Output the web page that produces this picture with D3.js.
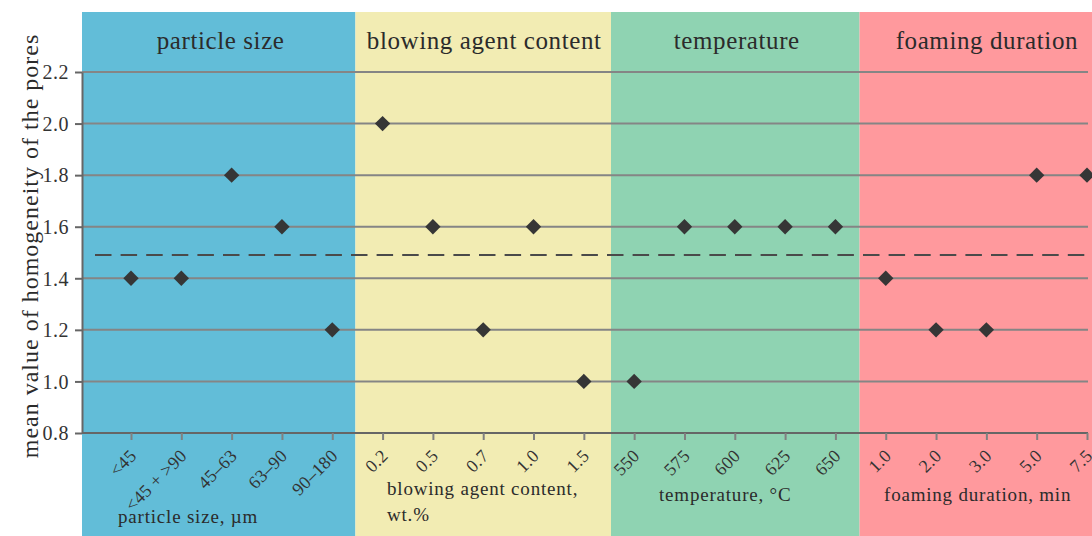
<!DOCTYPE html>
<html><head><meta charset="utf-8">
<script src="https://cdn.jsdelivr.net/npm/d3@7"></script>
<style>html,body{margin:0;padding:0;background:#fff;}svg{display:block;}</style>
</head><body>
<svg id="chart" width="1092" height="536"></svg>
<script>
const categories = ["<45","<45 + >90","45–63","63–90","90–180",
  "0.2","0.5","0.7","1.0","1.5",
  "550","575","600","625","650",
  "1.0 ","2.0","3.0","5.0","7.5"];
const values = [1.4,1.4,1.8,1.6,1.2,
  2.0,1.6,1.2,1.6,1.0,
  1.0,1.6,1.6,1.6,1.6,
  1.4,1.2,1.2,1.8,1.8];
const groupNames = ["particle size","blowing agent content","temperature","foaming duration"];
const groupAxisLabels = [["particle size, µm"],["blowing agent content,","wt.%"],["temperature, °C"],["foaming duration, min"]];
const groupColors = ["#62bdd8","#f2ecb3","#8fd3b2","#ff999d"];
const yTicks = [0.8,1.0,1.2,1.4,1.6,1.8,2.0,2.2];
const meanLine = 1.49;

const svg = d3.select("#chart");
const font = "'Liberation Serif','DejaVu Serif',serif";
const x = d3.scalePoint().domain(categories).range([131,1087]);
const y = d3.scaleLinear().domain([0.8,2.2]).range([433,72]);
const step = x.step();

// panels
const bounds = [82, x(categories[4])+step/2-2, x(categories[9])+step/2+2, x(categories[14])+step/2-1, 1092];
const headOff = [-11, 1, 2, 0.5];
groupNames.forEach((g,i)=>{
  svg.append("rect").attr("x",bounds[i]).attr("y",12).attr("width",bounds[i+1]-bounds[i]).attr("height",536-12)
    .attr("fill",groupColors[i]);
  svg.append("text").attr("x",x(categories[i*5+2])+headOff[i]).attr("y",49).attr("text-anchor","middle")
    .attr("font-family",font).attr("font-size",25).attr("letter-spacing","0.6px").attr("fill","#2b2b2b").text(g);
});

// gridlines
svg.append("g").selectAll("line").data(yTicks.slice(1)).join("line")
  .attr("x1",82).attr("x2",1088).attr("y1",d=>y(d)).attr("y2",d=>y(d))
  .attr("stroke","#858585").attr("stroke-width",2);

// dashed mean line
svg.append("line").attr("x1",95).attr("x2",1092).attr("y1",y(meanLine)).attr("y2",y(meanLine))
  .attr("stroke","#4a4a4a").attr("stroke-width",2).attr("stroke-dasharray","16.5,9.1");

// y axis
const yAxis = svg.append("g").attr("transform","translate(82,0)")
  .call(d3.axisLeft(y).tickValues(yTicks).tickFormat(d3.format(".1f")).tickSize(7).tickSizeOuter(0));
yAxis.select(".domain").attr("stroke","#666").attr("stroke-width",2);
yAxis.selectAll(".tick line").attr("stroke","#666").attr("stroke-width",2);
yAxis.selectAll(".tick text").attr("font-family",font).attr("font-size",20).attr("letter-spacing","0.5px")
  .attr("fill","#333").attr("x",-13).attr("dy","0.34em");

// x axis
const xAxis = svg.append("g").attr("transform","translate(0,433)")
  .call(d3.axisBottom(x).tickSize(7).tickSizeOuter(0).tickFormat(d=>d.trim()));
xAxis.select(".domain").attr("d","M82,0H1088").attr("stroke","#666").attr("stroke-width",2);
xAxis.selectAll(".tick line").attr("stroke","#808080").attr("stroke-width",2);
xAxis.selectAll(".tick text").attr("font-family",font).attr("font-size",18).attr("letter-spacing","0.3px").attr("fill","#333")
  .attr("text-anchor","end").attr("dy",0).attr("y",0)
  .attr("transform","translate(6,24) rotate(-45)");

// bottom labels
const labelX = [118,387,659,884];
const labelY = [[523],[495,521],[501],[501]];
groupAxisLabels.forEach((ls,i)=>{
  ls.forEach((t,j)=>{
    svg.append("text").attr("x",labelX[i]).attr("y",labelY[i][j]).attr("font-family",font)
      .attr("font-size",19).attr("letter-spacing","0.8px").attr("fill","#2b2b2b").text(t);
  });
});

// y title
svg.append("text").attr("transform","translate(38,246) rotate(-90)").attr("text-anchor","middle")
  .attr("font-family",font).attr("font-size",24).attr("letter-spacing","1px").attr("fill","#2b2b2b")
  .text("mean value of homogeneity of the pores");

// points
const sym = d3.symbol().type(d3.symbolSquare).size(118);
svg.append("g").selectAll("path").data(categories).join("path")
  .attr("d",sym).attr("transform",(d,i)=>`translate(${x(d)},${y(values[i])}) rotate(45)`)
  .attr("fill","#363636");
</script>
</body></html>
